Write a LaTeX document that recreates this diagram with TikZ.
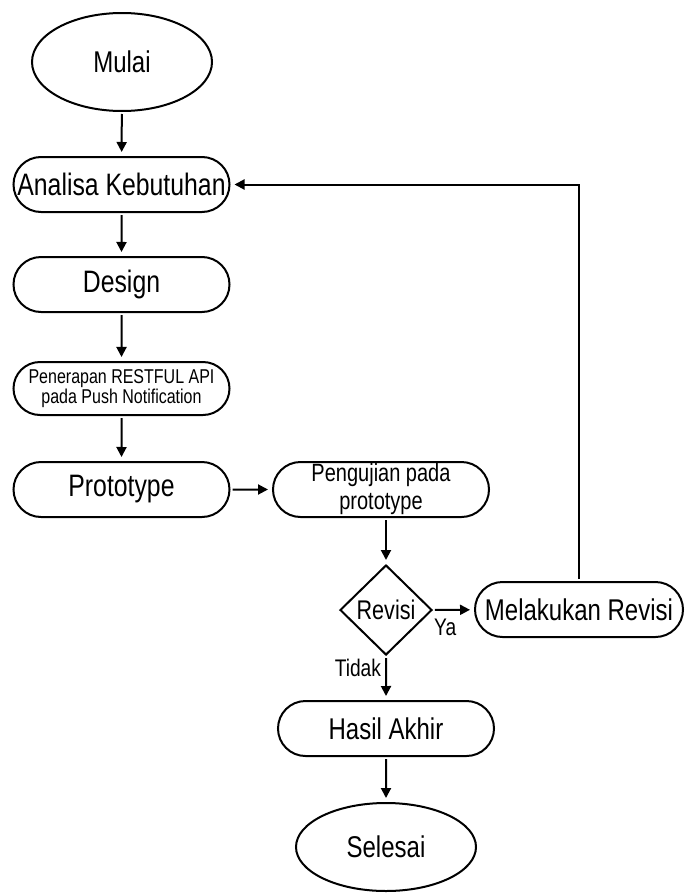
\documentclass[tikz,border=0pt]{standalone}
\usepackage{fontspec}
\setmainfont{Liberation Sans}[FakeStretch=0.8]
\usetikzlibrary{arrows.meta,shapes.geometric,shapes.misc}
\tikzset{
  >={Triangle[length=5pt,width=5pt]},
  terminal/.style={ellipse,draw,line width=1pt,inner sep=0pt,minimum width=90pt,
    minimum height=#1,font=\fontsize{15}{16}\selectfont},
  terminal/.default=49pt,
  proc/.style={rounded rectangle,draw,line width=1pt,inner sep=0pt,minimum width=108pt,
    minimum height=27.5pt,align=center,font=\fontsize{15.5}{16}\selectfont},
  decision/.style={diamond,draw,line width=1pt,inner sep=0pt,aspect=1,minimum width=46pt,
    minimum height=45pt,font=\fontsize{13.5}{15}\selectfont},
  flow/.style={->,line width=1pt,shorten <=1pt,shorten >=2pt},
  tag/.style={font=\fontsize{12}{13}\selectfont,inner sep=2pt},
}
\begin{document}
\begin{tikzpicture}[x=0.5pt,y=-0.5pt]
  \useasboundingbox (0,0) rectangle (685,894);
  % main column
  \node[terminal] (mulai) at (122,62) {Mulai};
  \node[proc] (analisa) at (121.5,184.5) {Analisa Kebutuhan};
  \node[proc] (design) at (121.5,284.5) {Design};
  \node[proc,minimum height=26.5pt,font=\fontsize{10}{8.6}\selectfont] (penerapan) at (121.5,388.5) {Penerapan RESTFUL API\\pada Push Notification};
  \node[proc] (prototype) at (121.5,489.5) {Prototype};
  % test and revision
  \node[proc,font=\fontsize{12.5}{14}\selectfont] (pengujian) at (381,489.5) {Pengujian pada\\prototype};
  \node[decision] (revisi) at (386,610) {Revisi};
  \node[proc,minimum width=104pt,font=\fontsize{15}{16}\selectfont] (melakukan) at (579,609.5) {Melakukan Revisi};
  \node[proc,font=\fontsize{15}{16}\selectfont] (hasil) at (386,728.5) {Hasil Akhir};
  \node[terminal=44pt] (selesai) at (386,847) {Selesai};

  \draw[flow] (mulai) -- (analisa);
  \draw[flow] (analisa) -- (design);
  \draw[flow] (design) -- (penerapan);
  \draw[flow] (penerapan) -- (prototype);
  \draw[flow] (prototype) -- (pengujian);
  \draw[flow] (revisi.north |- pengujian.south) -- (revisi.north);
  \draw[flow] (revisi) -- node[tag,pos=0.3,below,yshift=-2pt] {Ya} (melakukan);
  \draw[flow] (revisi) -- node[tag,pos=0.27,left] {Tidak} (hasil);
  \draw[flow] (hasil) -- (selesai);
  \draw[flow] (melakukan.north) |- (analisa.east);
\end{tikzpicture}
\end{document}
